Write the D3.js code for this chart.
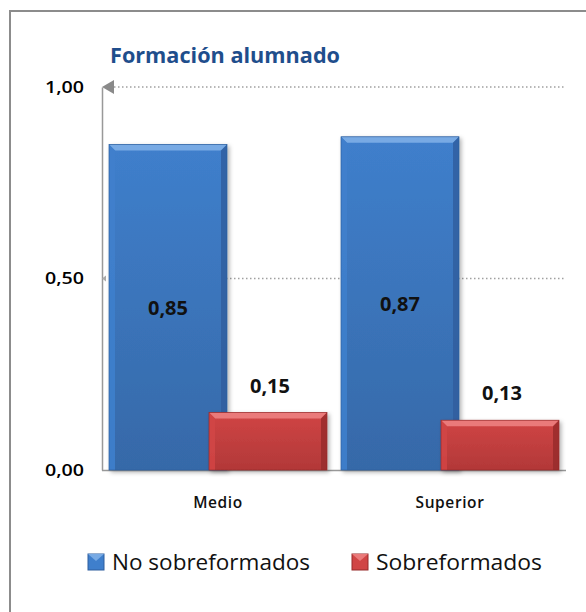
<!DOCTYPE html>
<html><head><meta charset="utf-8">
<script src="https://cdn.jsdelivr.net/npm/d3@7"></script>
<style>body{margin:0;background:#fff}svg{display:block}</style>
</head><body>
<script>
const categories = ["Medio", "Superior"];
const seriesNames = ["No sobreformados", "Sobreformados"];
const noSobre = [0.85, 0.87];
const sobre = [0.15, 0.13];
const yTicks = [0, 0.5, 1];
const title = "Formación alumnado";

const W = 586, H = 612;
const svg = d3.select("body").append("svg").attr("width", W).attr("height", H);
const defs = svg.append("defs");

const palette = [
  {main:"#3F7FCC", light:"#78AAE4", dark:"#2E5E9E", bottom:"#3669A8"},
  {main:"#D04545", light:"#EA7A7A", dark:"#962B2B", bottom:"#B23838"}
];
palette.forEach((p,i)=>{
  const g = defs.append("linearGradient").attr("id","g"+i).attr("x1",0).attr("x2",0).attr("y1",0).attr("y2",1);
  g.append("stop").attr("offset","0%").attr("stop-color",p.main);
  g.append("stop").attr("offset","100%").attr("stop-color",p.bottom);
});
const f = defs.append("filter").attr("id","sh").attr("x","-10%").attr("y","-10%").attr("width","130%").attr("height","130%");
f.append("feDropShadow").attr("dx",2).attr("dy",2).attr("stdDeviation",2).attr("flood-color","#000").attr("flood-opacity",0.3);

// frame
svg.append("rect").attr("x",10).attr("y",11).attr("width",600).attr("height",620)
  .attr("fill","none").attr("stroke","#8c8c8c").attr("stroke-width",2);

const x0 = d3.scaleBand().domain(categories).range([102, 566]).paddingInner(0).paddingOuter(0);
const y = d3.scaleLinear().domain([0,1]).range([470, 87]);
const groupW = 218, barW = 118;
const xs = d3.scaleLinear().domain([0,1]).range([0, groupW - barW]);

// gridlines
svg.append("g").selectAll("line").data(yTicks.filter(d=>d>0)).join("line")
  .attr("x1",114).attr("x2",566).attr("y1",d=>y(d)).attr("y2",d=>y(d))
  .attr("stroke","#a0a0a0").attr("stroke-width",1.5).attr("stroke-dasharray","1.5,2.5");

// y axis
const yAxis = d3.axisLeft(y).tickValues(yTicks).tickSize(0).tickPadding(18)
  .tickFormat(d=>d3.format(".2f")(d).replace(".",","));
const ga = svg.append("g").attr("transform","translate(102,0)").call(yAxis);
ga.select(".domain").attr("stroke","#999").attr("stroke-width",1.5);
ga.selectAll("text").attr("font-family","'Open Sans', sans-serif").attr("font-size",16.5).attr("font-weight",600)
  .attr("textLength",39).attr("lengthAdjust","spacingAndGlyphs").attr("fill","#000");
// arrow at top (pointing left, tip on axis)
svg.append("path").attr("d",`M102,${y(1)} L114,${y(1)-7} L114,${y(1)+7} Z`).attr("fill","#8a8a8a");
svg.selectAll(".tickmark").data(yTicks.filter(d=>d<1&&d>0)).join("path")
  .attr("d",d=>`M${102},${y(d)} L${106},${y(d)-3} L${106},${y(d)+3} Z`).attr("fill","#aaa");

// x axis baseline
svg.append("line").attr("x1",102).attr("x2",566).attr("y1",470.5).attr("y2",470.5).attr("stroke","#999").attr("stroke-width",1.5);

// title
svg.append("text").attr("x",110).attr("y",63).text(title)
  .attr("font-family","'Open Sans', sans-serif").attr("font-weight",700).attr("font-size",21)
  .attr("textLength",230).attr("lengthAdjust","spacingAndGlyphs").attr("fill","#1F4E8C");

// bars
function bar(g, x, top, w, p, gid){
  const b = 470 - top, bev = 6;
  const gg = g.append("g").attr("filter","url(#sh)");
  gg.append("rect").attr("x",x).attr("y",top).attr("width",w).attr("height",b).attr("fill",`url(#${gid})`);
  gg.append("path").attr("d",`M${x},${top} L${x+w},${top} L${x+w-bev},${top+bev} L${x+bev},${top+bev} Z`).attr("fill",p.light);
  gg.append("path").attr("d",`M${x},${top} L${x+bev},${top+bev} L${x+bev},${top+b} L${x},${top+b} Z`).attr("fill",p.main).attr("opacity",0.9);
  gg.append("path").attr("d",`M${x+w},${top} L${x+w-bev},${top+bev} L${x+w-bev},${top+b} L${x+w},${top+b} Z`).attr("fill",p.dark).attr("opacity",0.8);
  gg.append("rect").attr("x",x).attr("y",top).attr("width",w).attr("height",b).attr("fill","none").attr("stroke",p.dark).attr("stroke-width",0.7);
}
const fmt = v => d3.format(".2f")(v).replace(".",",");
const series = [noSobre, sobre];
categories.forEach((c,i)=>{
  const gx = x0(c) + (x0.bandwidth()-groupW)/2;
  series.forEach((s,k)=>{
    bar(svg, gx + xs(k), y(s[i]), barW, palette[k], "g"+k);
  });
});
const lblFont = "'Open Sans', sans-serif";
categories.forEach((c,i)=>{
  const gx = x0(c) + (x0.bandwidth()-groupW)/2;
  svg.append("text").attr("x",gx + xs(0) + barW/2).attr("y",(y(noSobre[i])+470)/2 + 8)
    .attr("text-anchor","middle").text(fmt(noSobre[i]))
    .attr("font-family",lblFont).attr("font-weight",700).attr("font-size",20).attr("fill","#111");
  svg.append("text").attr("x",gx + xs(1) + barW/2 + 2).attr("y",y(sobre[i]) - 20)
    .attr("text-anchor","middle").text(fmt(sobre[i]))
    .attr("font-family",lblFont).attr("font-weight",700).attr("font-size",20).attr("fill","#111");
  svg.append("text").attr("x",x0(c)+x0.bandwidth()/2).attr("y",508).attr("text-anchor","middle").text(c)
    .attr("font-family",lblFont).attr("font-weight",600).attr("font-size",15.5).attr("letter-spacing",0.6).attr("fill","#111");
});

// legend
const legX = [88, 352];
const legLen = [198, 166];
seriesNames.forEach((n,k)=>{
  const lg = svg.append("g").attr("transform",`translate(${legX[k]},554)`);
  lg.append("rect").attr("x",0).attr("y",0).attr("width",16).attr("height",16).attr("fill",palette[k].main).attr("stroke",palette[k].dark).attr("stroke-width",1);
  lg.append("path").attr("d","M0,0 L16,0 L8,7 Z").attr("fill",palette[k].light);
  lg.append("text").attr("x",24).attr("y",16).text(n)
    .attr("font-family","'Open Sans', sans-serif").attr("font-size",21)
    .attr("textLength",legLen[k]).attr("lengthAdjust","spacingAndGlyphs").attr("fill","#111");
});
</script>
</body></html>
